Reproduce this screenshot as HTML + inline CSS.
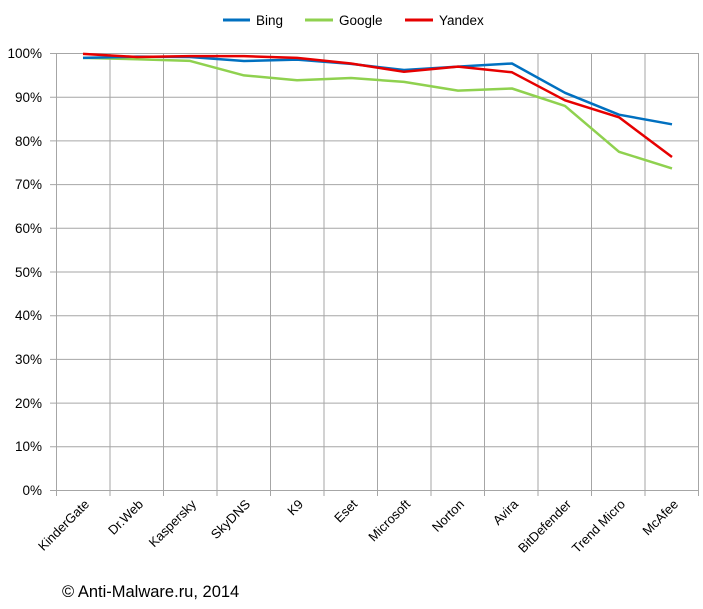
<!DOCTYPE html>
<html><head><meta charset="utf-8"><style>body{margin:0;background:#fff}</style></head><body>
<svg width="703" height="604" xmlns="http://www.w3.org/2000/svg" font-family="Liberation Sans, sans-serif">
<g stroke="#a6a6a6" stroke-width="1">
<line x1="50" y1="490.5" x2="699" y2="490.5"/>
<line x1="50" y1="446.8" x2="699" y2="446.8"/>
<line x1="50" y1="403.1" x2="699" y2="403.1"/>
<line x1="50" y1="359.4" x2="699" y2="359.4"/>
<line x1="50" y1="315.7" x2="699" y2="315.7"/>
<line x1="50" y1="272" x2="699" y2="272"/>
<line x1="50" y1="228.3" x2="699" y2="228.3"/>
<line x1="50" y1="184.6" x2="699" y2="184.6"/>
<line x1="50" y1="140.9" x2="699" y2="140.9"/>
<line x1="50" y1="97.2" x2="699" y2="97.2"/>
<line x1="50" y1="53.5" x2="699" y2="53.5"/>
<line x1="56.5" y1="53" x2="56.5" y2="496"/><line x1="110" y1="53" x2="110" y2="496"/><line x1="163.5" y1="53" x2="163.5" y2="496"/><line x1="217" y1="53" x2="217" y2="496"/><line x1="270.5" y1="53" x2="270.5" y2="496"/><line x1="324" y1="53" x2="324" y2="496"/><line x1="377.5" y1="53" x2="377.5" y2="496"/><line x1="431" y1="53" x2="431" y2="496"/><line x1="484.5" y1="53" x2="484.5" y2="496"/><line x1="538" y1="53" x2="538" y2="496"/><line x1="591.5" y1="53" x2="591.5" y2="496"/><line x1="645" y1="53" x2="645" y2="496"/><line x1="698.5" y1="53" x2="698.5" y2="496"/>
</g>
<g font-size="13.5" fill="#000" text-anchor="end">
<text x="42" y="495">0%</text><text x="42" y="451">10%</text><text x="42" y="408">20%</text><text x="42" y="364">30%</text><text x="42" y="320">40%</text><text x="42" y="277">50%</text><text x="42" y="233">60%</text><text x="42" y="189">70%</text><text x="42" y="146">80%</text><text x="42" y="102">90%</text><text x="42" y="58">100%</text>
</g>
<g fill="none" stroke-width="2.5" stroke-linejoin="round">
<polyline stroke="#8fd14f" points="83,57.9 137,59.2 190,60.9 244,75.4 297,80.2 351,78 404,81.9 458,90.6 512,88.5 565,105.9 619,151.8 672,168.4"/>
<polyline stroke="#0070c0" points="83,57.9 137,56.6 190,57 244,61 297,59.6 351,63.9 404,70 458,66.6 512,63.5 565,92.8 619,114.7 672,124.3"/>
<polyline stroke="#e60000" points="83,53.9 137,57 190,56.1 244,56.1 297,57.9 351,63.5 404,71.8 458,66.6 512,72.3 565,100.3 619,117.3 672,157"/>
</g>
<g font-size="13.5" fill="#000">
<line x1="223" y1="20" x2="250" y2="20" stroke="#0070c0" stroke-width="3"/><text x="256" y="25">Bing</text>
<line x1="305" y1="20" x2="333" y2="20" stroke="#8fd14f" stroke-width="3"/><text x="339" y="25">Google</text>
<line x1="405" y1="20" x2="433" y2="20" stroke="#e60000" stroke-width="3"/><text x="439" y="25">Yandex</text>
</g>
<g font-size="13" fill="#000" text-anchor="end">
<text transform="translate(90,505) rotate(-45)">KinderGate</text>
<text transform="translate(144,505) rotate(-45)">Dr.Web</text>
<text transform="translate(197,505) rotate(-45)">Kaspersky</text>
<text transform="translate(251,505) rotate(-45)">SkyDNS</text>
<text transform="translate(304,505) rotate(-45)">K9</text>
<text transform="translate(358,505) rotate(-45)">Eset</text>
<text transform="translate(411,505) rotate(-45)">Microsoft</text>
<text transform="translate(465,505) rotate(-45)">Norton</text>
<text transform="translate(519,505) rotate(-45)">Avira</text>
<text transform="translate(572,505) rotate(-45)">BitDefender</text>
<text transform="translate(626,505) rotate(-45)">Trend Micro</text>
<text transform="translate(679,505) rotate(-45)">McAfee</text>
</g>
<text x="62" y="597" font-size="16.5" fill="#000">© Anti-Malware.ru, 2014</text>
</svg>
</body></html>
